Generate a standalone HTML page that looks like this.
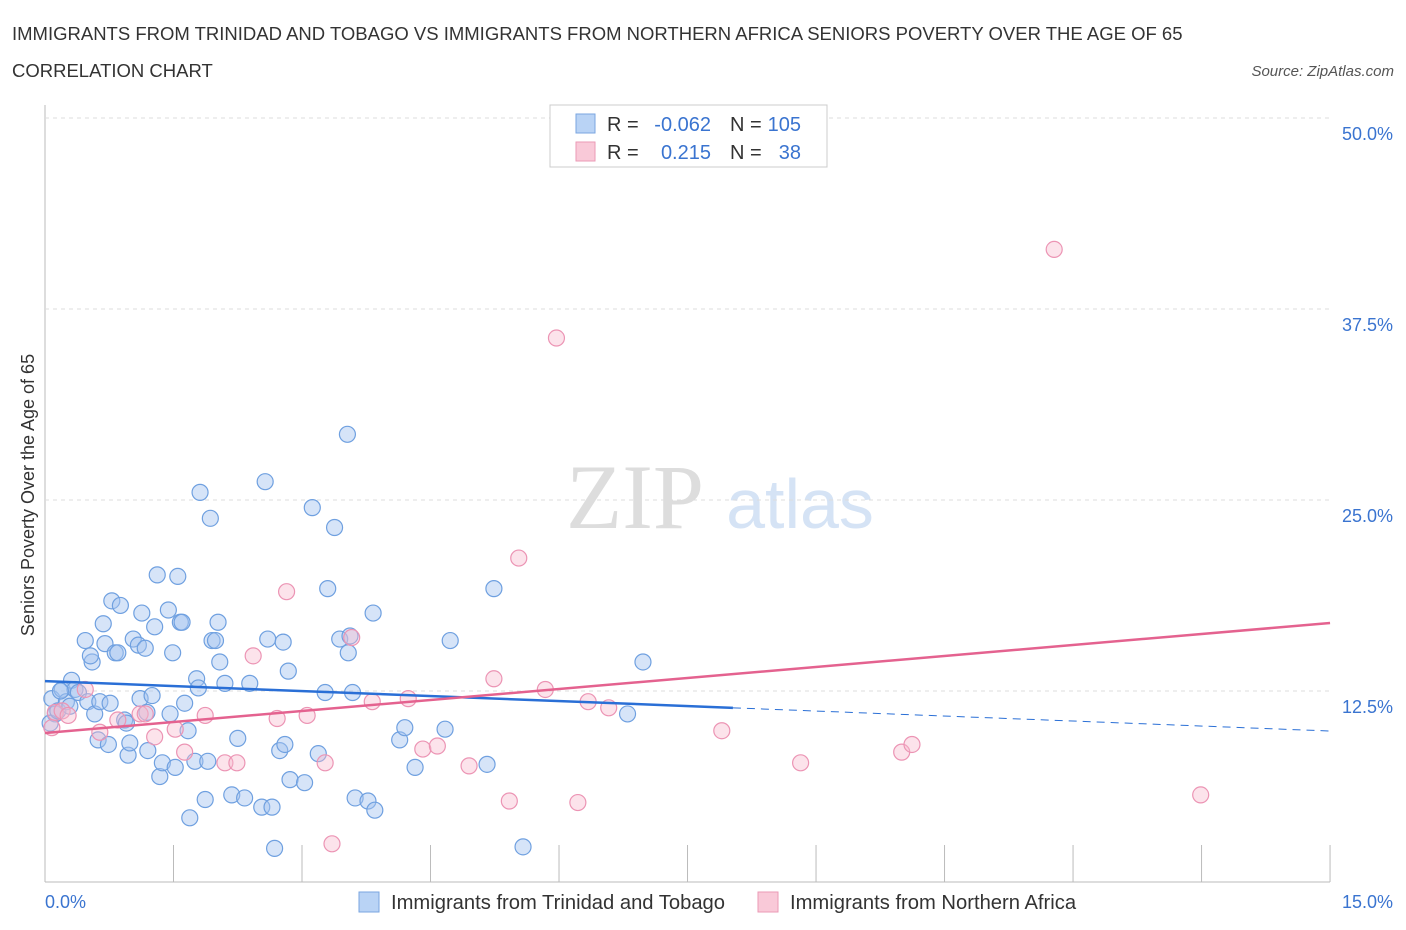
<!DOCTYPE html>
<html><head><meta charset="utf-8"><style>
body{margin:0;background:#fff;font-family:"Liberation Sans",sans-serif;}
svg{display:block}
</style></head><body>
<svg id="chart" width="1406" height="930">
<text x="12" y="40" font-size="18.5" fill="#333">IMMIGRANTS FROM TRINIDAD AND TOBAGO VS IMMIGRANTS FROM NORTHERN AFRICA SENIORS POVERTY OVER THE AGE OF 65</text>
<text x="12" y="77" font-size="18.5" fill="#333">CORRELATION CHART</text>
<text x="1394" y="76" font-size="15" fill="#555" font-style="italic" text-anchor="end">Source: ZipAtlas.com</text>
<text x="635" y="528" font-size="92" fill="#ddd" font-family="Liberation Serif,serif" text-anchor="middle">ZIP</text>
<text x="800" y="528" font-size="70" fill="#d5e3f5" text-anchor="middle">atlas</text>
<text transform="translate(34,495) rotate(-90)" font-size="18" fill="#333" text-anchor="middle">Seniors Poverty Over the Age of 65</text>
<g id="grid"></g><g id="marks"></g>
<g>
<rect x="550" y="105" width="277" height="62" fill="#fff" stroke="#ccc"/>
<rect x="576" y="114" width="19" height="19" fill="#b9d3f5" stroke="#7aa6e0"/>
<rect x="576" y="142" width="19" height="19" fill="#f9c9d8" stroke="#eb9ab6"/>
<text x="607" y="131" font-size="20" fill="#333">R =</text>
<text x="711" y="131" font-size="20" fill="#3a74d0" text-anchor="end">-0.062</text>
<text x="730" y="131" font-size="20" fill="#333">N =</text>
<text x="801" y="131" font-size="20" fill="#3a74d0" text-anchor="end">105</text>
<text x="607" y="159" font-size="20" fill="#333">R =</text>
<text x="711" y="159" font-size="20" fill="#3a74d0" text-anchor="end">0.215</text>
<text x="730" y="159" font-size="20" fill="#333">N =</text>
<text x="801" y="159" font-size="20" fill="#3a74d0" text-anchor="end">38</text>
</g>
<g>
<rect x="359" y="892" width="20" height="20" fill="#b9d3f5" stroke="#7aa6e0"/>
<text x="391" y="909" font-size="20.2" fill="#333">Immigrants from Trinidad and Tobago</text>
<rect x="758" y="892" width="20" height="20" fill="#f9c9d8" stroke="#eb9ab6"/>
<text x="790" y="909" font-size="20.2" fill="#333">Immigrants from Northern Africa</text>
</g>
</svg>
<script>
const blueX=[0.08,0.12,0.06,0.15,0.2,0.25,0.29,0.31,0.35,0.39,0.18,0.47,0.5,0.55,0.53,0.58,0.62,0.64,0.68,0.7,0.74,0.76,0.78,0.82,0.85,0.88,0.93,0.95,0.97,0.99,1.03,1.09,1.11,1.13,1.17,1.19,1.2,1.25,1.28,1.31,1.34,1.37,1.44,1.46,1.49,1.52,1.55,1.58,1.6,1.63,1.67,1.69,1.75,1.77,1.79,1.81,1.87,1.9,1.93,1.95,1.99,2.02,2.04,2.1,2.18,2.25,2.33,2.39,2.53,2.57,2.6,2.65,2.68,2.74,2.78,2.8,2.84,2.86,3.03,3.12,3.19,3.27,3.3,3.38,3.44,3.53,3.54,3.59,3.62,3.77,3.83,3.85,4.14,4.2,4.32,4.67,4.73,5.16,5.24,5.58,6.8,6.98,3.56];
const blueY=[12.0,11.0,10.4,11.2,12.6,11.8,11.5,13.2,12.6,12.4,12.5,15.8,11.8,14.4,14.8,11.0,9.3,11.8,16.9,15.6,9.0,11.7,18.4,15.0,15.0,18.1,10.6,10.4,8.3,9.1,15.9,15.5,12.0,17.6,15.3,11.1,8.6,12.2,16.7,20.1,6.9,7.8,17.8,11.0,15.0,7.5,20.0,17.0,17.0,11.7,9.9,4.2,7.9,13.3,12.7,25.5,5.4,7.9,23.8,15.8,15.8,17.0,14.4,13.0,5.7,9.4,5.5,13.0,4.9,26.2,15.9,4.9,2.2,8.6,15.7,9.0,13.8,6.7,6.5,24.5,8.4,12.4,19.2,23.2,15.9,29.3,15.0,12.4,5.5,5.3,17.6,4.7,9.3,10.1,7.5,10.0,15.8,7.7,19.2,2.3,11.0,14.4,16.1];
const pinkX=[0.08,0.12,0.2,0.27,0.47,0.64,0.85,1.11,1.17,1.28,1.52,1.63,1.87,2.1,2.24,2.43,2.71,2.82,3.06,3.27,3.35,3.58,3.82,4.24,4.41,4.58,4.95,5.24,5.42,5.53,5.84,5.97,6.22,6.34,6.58,7.9,8.82,10.0,10.12,11.78,13.49];
const pinkY=[10.1,11.1,11.2,10.9,12.6,9.8,10.6,11.0,11.0,9.5,10.0,8.5,10.9,7.8,7.8,14.8,10.7,19.0,10.9,7.8,2.5,16.0,11.8,12.0,8.7,8.9,7.6,13.3,5.3,21.2,12.6,35.6,5.2,11.8,11.4,9.9,7.8,8.5,9.0,41.4,5.7];
const yTicks=[12.5,25.0,37.5,50.0];
const trendBlue=[13.15,9.88], trendBlueEnd=8.03;
const trendPink=[9.75,16.95];
const X=v=>45+v*85.67, Y=v=>882-v*15.28;
const NS="http://www.w3.org/2000/svg";
function mk(t,a,p){const e=document.createElementNS(NS,t);for(const k in a)e.setAttribute(k,a[k]);p.appendChild(e);return e;}
const g=document.getElementById('grid'), m=document.getElementById('marks');
let ax=mk('line',{x1:45,y1:882,x2:1330,y2:882,stroke:'#bbb'},g);


let ay=mk('line',{x1:45,y1:105,x2:45,y2:882,stroke:'#bbb'},g);


for(let i=0;i<=10;i++){let t=mk('line',{x1:X(i*1.5),y1:845,x2:X(i*1.5),y2:882,stroke:'#bbb'},g);

}
yTicks.forEach(v=>{let l=mk('line',{x1:45,y1:Y(v),x2:1330,y2:Y(v),stroke:'#ddd','stroke-dasharray':'4,4'},g);


let t=mk('text',{x:1393,y:Y(v)+22,'font-size':18,fill:'#3a74d0','text-anchor':'end'},g);t.textContent=v.toFixed(1)+'%';

});
let x0=mk('text',{x:45,y:908,'font-size':18,fill:'#3a74d0'},g);x0.textContent='0.0%';


let x1=mk('text',{x:1393,y:908,'font-size':18,fill:'#3a74d0','text-anchor':'end'},g);x1.textContent='15.0%';


blueX.forEach((x,i)=>{let c=mk('circle',{cx:X(x),cy:Y(blueY[i]),r:8,fill:'rgba(164,196,240,0.45)',stroke:'#6fa0e0','stroke-width':1.2},m);

});
pinkX.forEach((x,i)=>{let c=mk('circle',{cx:X(x),cy:Y(pinkY[i]),r:8,fill:'rgba(248,185,205,0.4)',stroke:'#ec94b4','stroke-width':1.2},m);

});
const by=x=>trendBlue[0]+(trendBlue[1]-trendBlue[0])*x/15;
let tb=mk('line',{x1:X(0),y1:Y(by(0)),x2:X(trendBlueEnd),y2:Y(by(trendBlueEnd)),stroke:'#2a6fd6','stroke-width':2.5},m);


let td=mk('line',{x1:X(trendBlueEnd),y1:Y(by(trendBlueEnd)),x2:X(15),y2:Y(by(15)),stroke:'#2a6fd6','stroke-width':1,'stroke-dasharray':'8,6'},m);


let tp=mk('line',{x1:X(0),y1:Y(trendPink[0]),x2:X(15),y2:Y(trendPink[1]),stroke:'#e4628f','stroke-width':2.5},m);


</script>
</body></html>
